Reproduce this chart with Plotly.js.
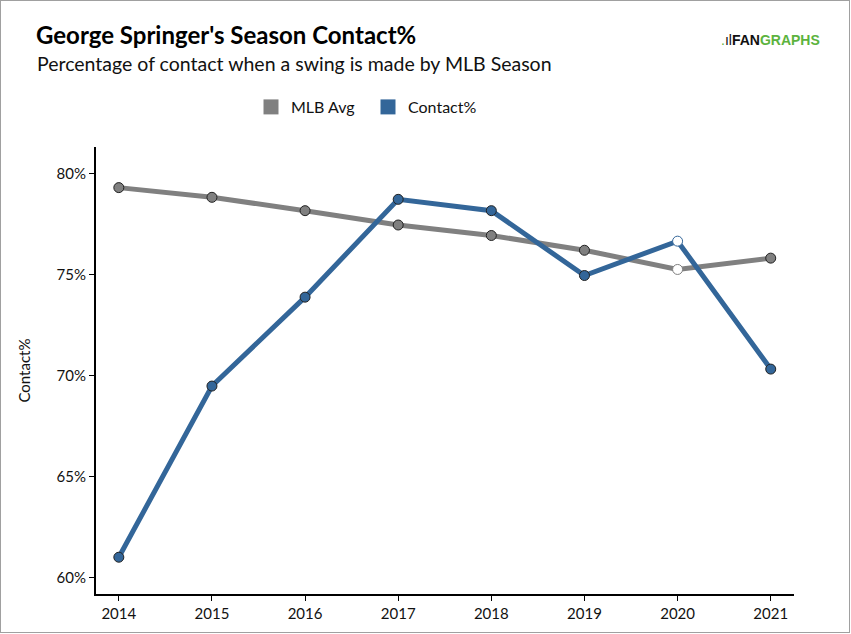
<!DOCTYPE html>
<html>
<head>
<meta charset="utf-8">
<script src="https://cdn.plot.ly/plotly-3.0.1.min.js"></script>
<style>
  body { margin: 0; background: #fff; }
  #frame { position: absolute; left: 0; top: 0; width: 848px; height: 631px; border: 1px solid #a0a0a0; }
  #chart { position: absolute; left: 0; top: 0; width: 851px; height: 634px; }
</style>
</head>
<body>
<div id="chart"></div>
<div id="frame"></div>
<script>
var seasons = [2014, 2015, 2016, 2017, 2018, 2019, 2020, 2021];
var mlbAvg = [79.31, 78.83, 78.17, 77.46, 76.94, 76.21, 75.26, 75.82];
var contactPct = [61.02, 69.49, 73.89, 78.73, 78.17, 74.96, 76.66, 70.33];

var gray = '#808080';
var blue = '#336699';

// 2020 (short season) points are drawn hollow
function fills(col) {
    return seasons.map(function (s) { return s == 2020 ? '#ffffff' : col; });
}
function outlines(col) {
    return seasons.map(function (s) { return s == 2020 ? col : '#222222'; });
}

var trace1 = {
    x: seasons,
    y: mlbAvg,
    name: 'MLB Avg',
    type: 'scatter',
    mode: 'lines+markers',
    showlegend: false,
    line: {color: gray, width: 5},
    marker: {size: 10, color: fills(gray), line: {color: outlines(gray), width: 1}}
};

var trace2 = {
    x: seasons,
    y: contactPct,
    name: 'Contact%',
    type: 'scatter',
    mode: 'lines+markers',
    showlegend: false,
    line: {color: blue, width: 5},
    marker: {size: 10, color: fills(blue), line: {color: outlines(blue), width: 1}}
};

// legend entries only (square swatches)
var key1 = {
    x: [null], y: [null], name: 'MLB Avg', type: 'scatter', mode: 'markers',
    marker: {symbol: 'square', size: 15, color: gray, line: {width: 0}}
};
var key2 = {
    x: [null], y: [null], name: 'Contact%', type: 'scatter', mode: 'markers',
    marker: {symbol: 'square', size: 15, color: blue, line: {width: 0}}
};

var data = [trace1, trace2, key1, key2];

var layout = {
    width: 851,
    height: 634,
    margin: {l: 96, r: 57, t: 147, b: 40},
    paper_bgcolor: '#ffffff',
    plot_bgcolor: '#ffffff',
    font: {family: 'Lato, "Open Sans", sans-serif', size: 15, color: '#111111'},
    title: {
        text: "George Springer's Season Contact%",
        font: {family: 'Lato, sans-serif', size: 24, color: '#000000', weight: 'bold'},
        xref: 'container', yref: 'container',
        x: 36 / 851, xanchor: 'left',
        y: 1 - 36 / 634, yanchor: 'middle'
    },
    annotations: [
        {
            text: 'Percentage of contact when a swing is made by MLB Season',
            xref: 'paper', yref: 'paper',
            x: (35 - 96) / 698, xanchor: 'left',
            y: 1 + (147 - 63) / 447.5, yanchor: 'middle',
            showarrow: false,
            font: {family: 'Lato, sans-serif', size: 19.5, color: '#111111'}
        },
        {
            text: '<span style="color:#5cb33e">.</span>\u0131l<b>FAN</b><b><span style="color:#5cb33e">GRAPHS</span></b>',
            xref: 'paper', yref: 'paper',
            x: (822 - 96) / 698, xanchor: 'right',
            y: 1 + (147 - 40) / 447.5, yanchor: 'middle',
            showarrow: false,
            font: {family: 'Arial, "Liberation Sans", sans-serif', size: 14, color: '#111111'}
        }
    ],
    legend: {
        orientation: 'h',
        xref: 'container', yref: 'container',
        x: 251 / 851, xanchor: 'left',
        y: 1 - 107 / 634, yanchor: 'middle',
        entrywidth: 72, entrywidthmode: 'pixels',
        font: {family: 'Lato, sans-serif', size: 16, color: '#111111'},
        itemclick: false
    },
    xaxis: {
        range: [2013.755, 2021.25],
        tickmode: 'linear', tick0: 2014, dtick: 1,
        tickformat: 'd',
        showgrid: false, zeroline: false,
        showline: true, linecolor: '#000000', linewidth: 2,
        ticks: 'outside', ticklen: 5, tickcolor: '#000000', tickwidth: 1,
        tickfont: {family: 'Lato, sans-serif', size: 15, color: '#111111'}
    },
    yaxis: {
        range: [59.2, 81.32],
        tickmode: 'linear', tick0: 60, dtick: 5,
        ticksuffix: '%',
        showgrid: false, zeroline: false,
        showline: true, linecolor: '#000000', linewidth: 2,
        ticks: 'outside', ticklen: 5, tickcolor: '#000000', tickwidth: 1,
        tickfont: {family: 'Lato, sans-serif', size: 15, color: '#111111'},
        title: {text: 'Contact%', standoff: 22, font: {family: 'Lato, sans-serif', size: 15, color: '#111111'}}
    }
};

Plotly.newPlot('chart', data, layout, {displayModeBar: false, staticPlot: true});
</script>
</body>
</html>
